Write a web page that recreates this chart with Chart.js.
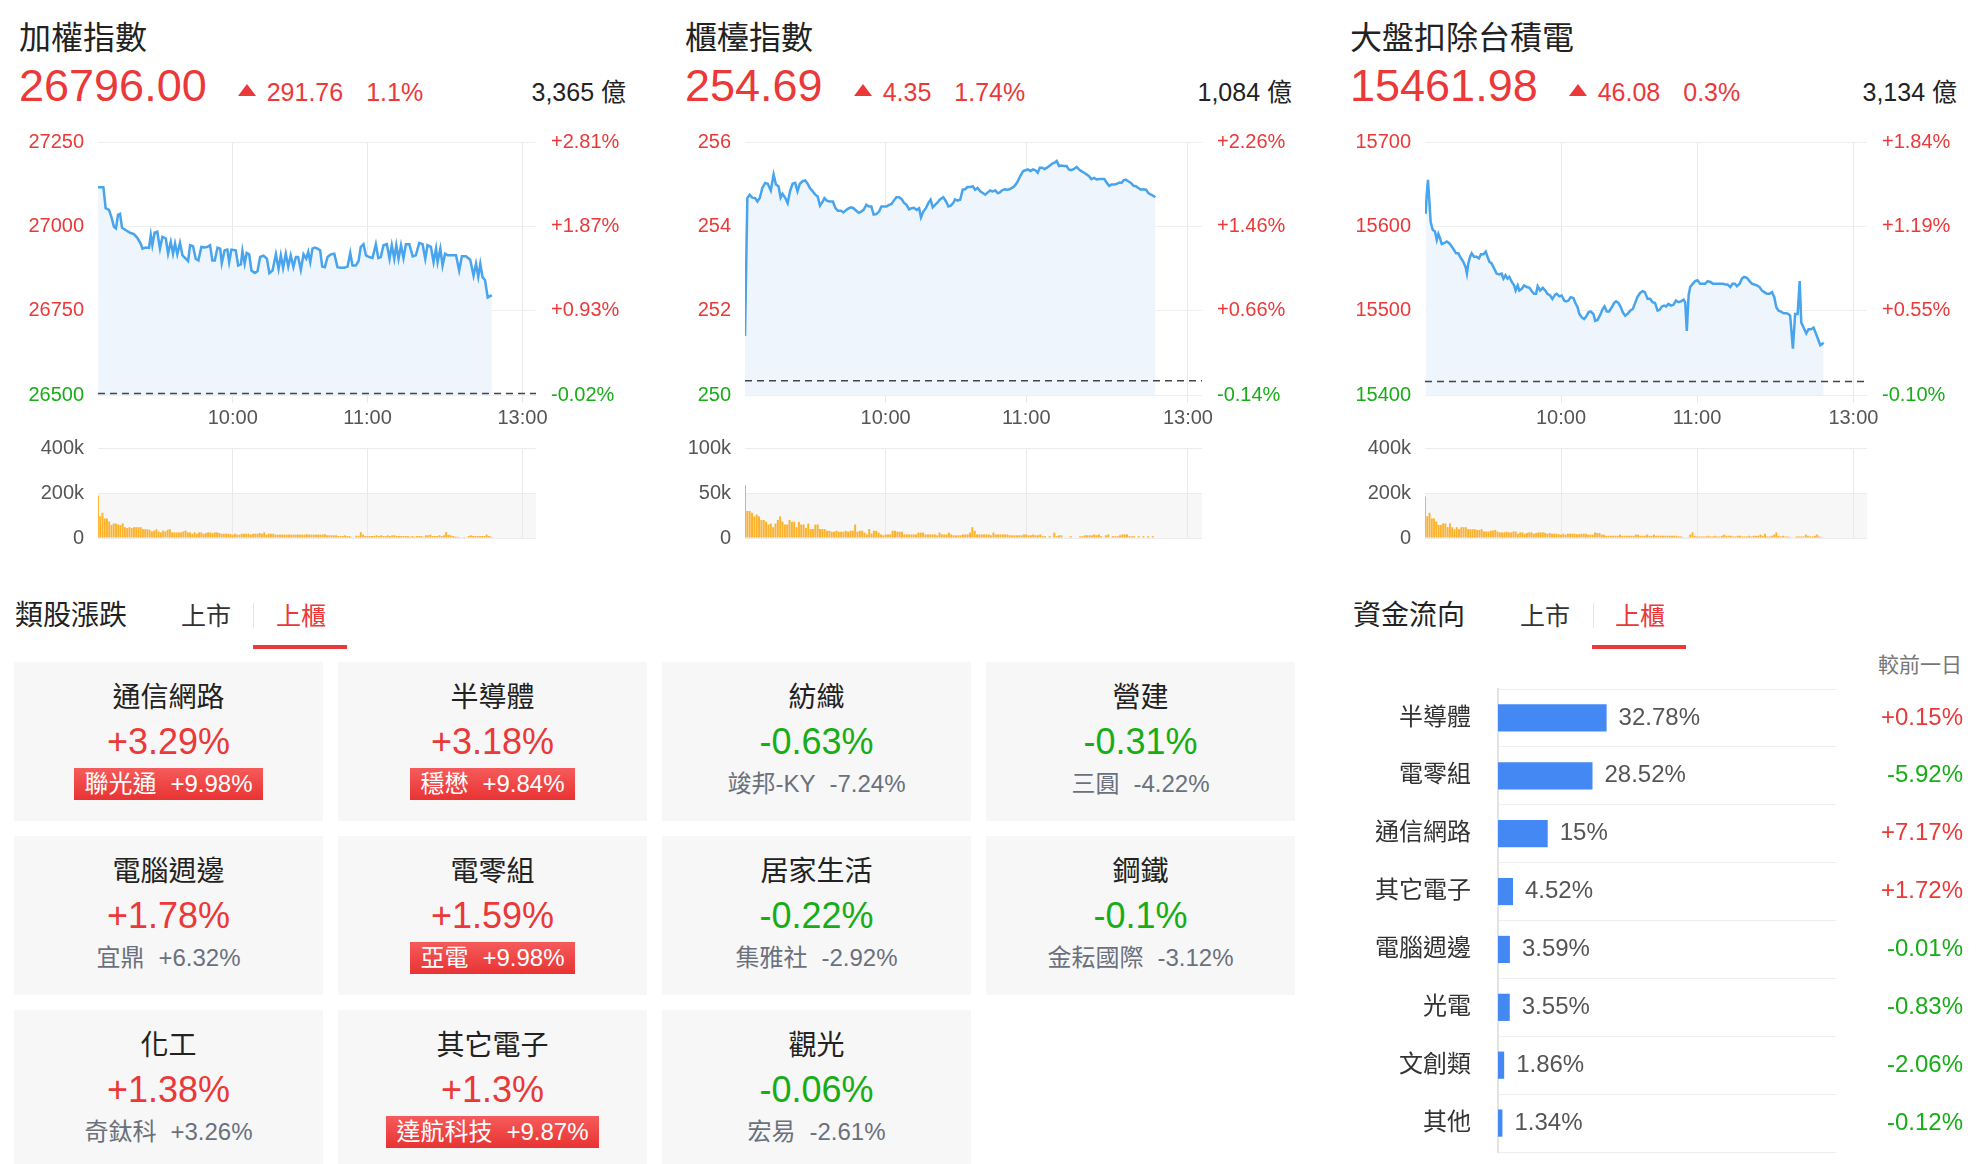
<!DOCTYPE html>
<html lang="zh-Hant">
<head>
<meta charset="utf-8">
<title>大盤走勢</title>
<script src="https://cdn.jsdelivr.net/npm/chart.js@4.4.1/dist/chart.umd.min.js"></script>
<style>
  body { margin: 0; width: 1978px; height: 1164px; overflow: hidden; position: relative; background: #fff;
    font-family: "Helvetica Neue", Helvetica, Arial, "Liberation Sans", "Noto Sans CJK TC", sans-serif; color: #222; }
  .panel { position: absolute; top: 0; width: 607px; height: 560px; }
  .panel .title { position: absolute; left: 0; top: 18px; font-size: 32px; line-height: 40px; white-space: nowrap; }
  .quote { position: absolute; left: 0; right: 0; top: 63px; display: flex; align-items: baseline; line-height: 1; white-space: nowrap; }
  .quote .last { font-size: 45px; color: #eb3838; }
  .quote .tri { width: 0; height: 0; margin: 0 11px 0 31px; border-left: 9px solid transparent; border-right: 9px solid transparent;
    border-bottom: 12px solid #eb3838; transform: translateY(-5px); }
  .quote .chg, .quote .pct { font-size: 25px; color: #eb3838; }
  .quote .pct { margin-left: 23px; }
  .quote .amt { font-size: 25px; margin-left: auto; color: #222; }
  .price-box { position: absolute; left: 0; top: 122px; width: 607px; height: 311px; }
  .vol-box { position: absolute; left: 0; top: 436px; width: 607px; height: 114px; }

  .sec-head { position: absolute; top: 598px; font-size: 28px; line-height: 36px; color: #222; }
  .tab { position: absolute; top: 600px; font-size: 25px; line-height: 32px; color: #333; }
  .tab.on { color: #eb3838; }
  .tab-sep { position: absolute; top: 603px; width: 1px; height: 25px; background: #e6e6e6; }
  .tab-line { position: absolute; top: 645px; width: 94px; height: 4px; background: #eb3838; }

  .cards { position: absolute; left: 14px; top: 662px; display: grid; grid-template-columns: repeat(4, 309px);
    grid-auto-rows: 159px; column-gap: 15px; row-gap: 15px; }
  .card { background: #f7f7f7; text-align: center; padding-top: 18px; box-sizing: border-box; }
  .card .name { font-size: 28px; line-height: 36px; color: #222; }
  .card .chg { font-size: 36px; line-height: 52px; }
  .card .lead { display: inline-block; height: 32px; line-height: 32px; font-size: 24px; color: #6a717c; padding: 0 10px; white-space: nowrap; }
  .card .lead.limit { background: linear-gradient(#f65b5b, #e83333); color: #fff; }
  .card .lead span + span { margin-left: 14px; }

  .note { position: absolute; right: 16px; top: 653px; font-size: 21px; line-height: 24px; color: #777; }
  .flow-box { position: absolute; left: 1340px; top: 680px; width: 628px; height: 478px; }
</style>
</head>
<body>

<div class="sec-head" style="left:15px">類股漲跌</div>
<div class="tab" style="left:181px">上市</div>
<div class="tab-sep" style="left:253px"></div>
<div class="tab on" style="left:276px">上櫃</div>
<div class="tab-line" style="left:253px"></div>
<div class="cards" id="cards"></div>

<div class="sec-head" style="left:1353px">資金流向</div>
<div class="tab" style="left:1520px">上市</div>
<div class="tab-sep" style="left:1593px"></div>
<div class="tab on" style="left:1615px">上櫃</div>
<div class="tab-line" style="left:1592px"></div>
<div class="note">較前一日</div>
<div class="flow-box"><canvas id="flow"></canvas></div>

<script>
// ---- index headers ----
const indexNames = ['加權指數', '櫃檯指數', '大盤扣除台積電'];
const indexLast = [26796.00, 254.69, 15461.98];
const indexChange = [291.76, 4.35, 46.08];
const indexChangePct = [1.1, 1.74, 0.3];
const indexTurnover = [3365, 1084, 3134]; // 億

// ---- intraday axis ----
const SESSION_SLOTS = 195;
const timeTickSlots = [60, 120, 189];
const timeTickLabels = ['10:00', '11:00', '13:00'];

// price axis ticks per index
const taiexAxis = [26500, 26750, 27000, 27250];
const otcAxis = [250, 252, 254, 256];
const exTsmcAxis = [15400, 15500, 15600, 15700];

// volume axis ticks per index
const taiexVolAxis = [0, 200000, 400000];
const otcVolAxis = [0, 50000, 100000];
const exTsmcVolAxis = [0, 200000, 400000];

// intraday trend [slot, value]
const taiexTrend = [[0,27116],[2.4,27116],[3.4,27054],[4.9,27049],[5.9,27029],[7.1,26999],[8,26994],[8.9,27034],[9.8,27037],[10.7,26996],
  [12.3,26989],[14.3,26981],[16,26977],[17.5,26966],[19,26949],[19.8,26934],[21.2,26937],[22.7,26936],[23.5,26974],[24.2,26944],
  [25.2,26981],[26.4,26984],[27.6,26934],[28.7,26969],[30.2,26964],[31.2,26919],[32.4,26954],[33.4,26919],[34.3,26949],[35.3,26917],
  [36.5,26951],[37.6,26914],[39.1,26904],[40.1,26897],[41,26944],[42.3,26941],[43.5,26904],[44.7,26899],[46,26939],[47.5,26937],
  [48.7,26939],[49.9,26944],[50.9,26899],[52,26899],[53.2,26937],[54.4,26934],[55.1,26891],[56.4,26929],[57.6,26931],[58.4,26894],
  [59.4,26931],[61.3,26929],[62.4,26884],[63.6,26887],[64.3,26927],[65.3,26889],[66.2,26921],[67.3,26917],[68.3,26869],[69.8,26862],
  [71,26867],[72.2,26909],[73.7,26913],[75.2,26904],[76.3,26861],[77.7,26869],[79.2,26917],[80.4,26874],[81.4,26914],[82.4,26877],
  [83.6,26919],[84.7,26881],[85.8,26914],[87,26879],[88.1,26909],[89.1,26909],[90.3,26871],[91.5,26917],[92.7,26904],[93.6,26924],
  [94.5,26894],[95.5,26934],[96.5,26937],[97.7,26934],[98.9,26929],[99.8,26881],[101,26879],[102.2,26909],[103.7,26917],[105.2,26919],
  [106.6,26879],[108.1,26877],[109.6,26877],[111.1,26881],[112.3,26921],[113.3,26884],[114.8,26884],[116,26897],[117,26939],[118.2,26947],
  [119.3,26914],[120.7,26909],[122.2,26906],[123.7,26947],[124.8,26906],[125.9,26909],[127.1,26944],[128.6,26947],[129.8,26904],[130.8,26944],
  [131.9,26904],[132.8,26944],[133.8,26904],[134.9,26944],[136,26906],[137.1,26947],[138.6,26947],[140.1,26911],[141.5,26914],[143,26951],
  [144.5,26947],[145.7,26904],[146.7,26944],[148.2,26939],[149.4,26894],[150.5,26934],[151.2,26894],[152.4,26934],[153.4,26884],[154.5,26919],
  [155.7,26914],[157.1,26914],[159.4,26914],[160.8,26869],[162,26911],[163.8,26911],[165.7,26901],[167.2,26854],[168.3,26889],[169.3,26851],
  [170.2,26889],[171.2,26849],[172.3,26841],[173.5,26789],[175.3,26796]];

const otcTrend = [[0,251.40],[1,254.67],[2,254.75],[3.1,254.68],[4.3,254.67],[5.3,254.59],[6.3,254.67],[7.4,254.91],[8.6,255.03],[9.7,255.01],
  [11,254.85],[12.2,255.23],[13.2,254.99],[14.3,254.95],[15.2,254.68],[16,254.77],[17.2,254.67],[18.2,254.55],[19.2,254.83],[20.3,255.01],
  [21.4,255.03],[22.4,254.83],[23.4,255.01],[24.6,255.07],[25.7,255.09],[26.7,255.01],[27.7,254.91],[28.9,254.83],[30,254.75],[31,254.71],
  [32,254.49],[33.2,254.59],[33.9,254.67],[34.9,254.61],[36,254.59],[37.5,254.59],[38.6,254.43],[39.6,254.37],[41,254.37],[42,254.33],
  [43.2,254.39],[44.3,254.43],[45.3,254.45],[46.3,254.43],[47.5,254.37],[48.5,254.32],[49.6,254.35],[50.6,254.39],[51.8,254.51],[52.9,254.47],
  [53.9,254.47],[54.9,254.28],[56,254.29],[57.2,254.35],[58.2,254.47],[59.2,254.47],[60.3,254.47],[61.5,254.51],[62.5,254.53],[63.5,254.61],
  [64.6,254.69],[65.8,254.69],[66.9,254.64],[67.8,254.56],[68.9,254.51],[70,254.40],[71.1,254.43],[72.1,254.44],[73.2,254.39],[74.3,254.43],
  [75.1,254.21],[76.1,254.35],[77.2,254.43],[78.2,254.55],[79.2,254.63],[80.1,254.45],[81.1,254.51],[82.1,254.56],[83.2,254.64],[84.6,254.69],
  [85.8,254.59],[86.8,254.47],[87.8,254.49],[88.9,254.56],[89.6,254.64],[90.6,254.61],[91.8,254.63],[92.9,254.87],[93.9,254.88],[94.9,254.93],
  [96.1,254.93],[97.2,254.95],[98.2,254.87],[99.2,254.91],[100.4,254.83],[101.5,254.79],[102.5,254.75],[103.5,254.80],[104.6,254.85],[105.6,254.83],
  [106.8,254.85],[107.8,254.79],[108.6,254.80],[109.6,254.85],[110.7,254.88],[111.8,254.87],[112.9,254.88],[113.9,254.91],[114.9,254.95],[116.1,255.04],
  [117.5,255.20],[118.7,255.31],[119.7,255.33],[120.7,255.35],[121.8,255.31],[122.9,255.35],[123.9,255.33],[124.9,255.27],[125.8,255.39],[126.8,255.39],
  [127.8,255.36],[128.9,255.39],[130.1,255.44],[131.1,255.49],[132.1,255.51],[133,255.55],[134,255.43],[135,255.44],[136.1,255.43],[137.2,255.43],
  [138.2,255.35],[139.2,255.33],[140.4,255.36],[141.5,255.41],[142.5,255.35],[143.5,255.31],[144.7,255.27],[145.8,255.23],[146.8,255.19],[147.8,255.12],
  [149,255.15],[150.1,255.11],[151.1,255.12],[152.1,255.12],[153.3,255.12],[154.4,255.03],[155.4,254.96],[156.4,254.99],[157.5,254.99],[158.7,255.01],
  [159.7,255.04],[160.7,255.03],[161.5,255.09],[162.5,255.11],[163.5,255.07],[164.7,255.03],[165.8,254.96],[166.8,254.95],[167.8,254.91],[169,254.87],
  [170.1,254.88],[171.1,254.87],[172.1,254.79],[173.3,254.75],[174.3,254.72],[175.1,254.69]];

const exTsmcTrend = [[0.3,15615],[0.7,15635],[1.3,15655],[1.9,15631],[2.5,15605],[3.4,15596],[4.4,15594],[5.2,15584],[5.9,15591],[6.6,15586],
  [7.4,15579],[8.4,15580],[9.6,15582],[10.7,15580],[11.8,15576],[12.8,15572],[13.7,15568],[14.7,15568],[15.7,15563],[16.9,15558],
  [18,15551],[18.5,15544],[19.1,15556],[19.9,15564],[20.6,15568],[21.6,15564],[22.8,15564],[23.8,15562],[24.7,15567],[25.8,15567],
  [26.8,15570],[27.7,15563],[28.4,15558],[29.4,15556],[30.5,15550],[31.6,15544],[32.7,15543],[33.8,15544],[34.6,15538],[35.5,15542],
  [36.4,15538],[37.2,15540],[38.3,15534],[39.3,15530],[40,15524],[40.9,15530],[41.6,15524],[42.7,15526],[43.7,15530],[44.9,15528],
  [46.1,15527],[47.1,15523],[48.1,15520],[49,15520],[49.7,15529],[50.8,15524],[52,15527],[53,15524],[54,15520],[55.2,15518],
  [56.2,15514],[57.4,15519],[58.1,15520],[59.3,15517],[60.3,15518],[61.4,15512],[62.3,15511],[63.3,15512],[64.3,15516],[65.5,15515],
  [66.2,15510],[67.3,15504],[68.1,15496],[69.2,15492],[70.2,15490],[71.1,15493],[72.1,15498],[73.1,15499],[74.3,15496],[75.1,15488],
  [76.1,15489],[77.3,15495],[78.4,15502],[79.2,15505],[80.2,15499],[81.2,15499],[82.4,15504],[83.4,15509],[84.3,15511],[85.4,15509],
  [86.4,15504],[87.3,15498],[88.3,15494],[89.3,15496],[90.5,15500],[91.7,15502],[92.7,15509],[93.7,15516],[94.9,15521],[96,15523],
  [97,15522],[98.2,15514],[99.3,15514],[100.4,15510],[101.5,15509],[102.6,15500],[103.5,15501],[104.5,15505],[105.5,15506],[106.4,15505],
  [107.4,15508],[108.5,15506],[109.6,15507],[110.7,15512],[111.8,15510],[112.9,15511],[114.1,15513],[114.8,15510],[115.5,15476],[116.3,15518],
  [117,15528],[118.2,15532],[119.2,15535],[120.2,15536],[121.4,15532],[122.6,15532],[123.6,15532],[124.7,15535],[125.8,15534],[127,15532],
  [128,15532],[129.1,15532],[130.2,15532],[131.4,15532],[132.5,15531],[133.5,15531],[134.7,15528],[135.7,15532],[136.7,15532],[137.6,15529],
  [138.8,15532],[139.8,15538],[140.8,15540],[142,15539],[143.2,15535],[144.2,15532],[145.3,15531],[146.4,15530],[147.6,15528],[148.6,15524],
  [149.7,15522],[150.8,15520],[152,15520],[153.1,15522],[154.1,15516],[155,15504],[156,15500],[157,15499],[158.2,15497],[159.4,15497],
  [160.4,15496],[161.1,15494],[162.3,15455],[163.3,15496],[164.4,15496],[165.3,15535],[166,15486],[167,15480],[168.2,15473],[169.2,15478],
  [170.3,15478],[171.4,15480],[172.6,15472],[173.7,15464],[174.4,15459],[175.9,15462]];

// volume per slot, in thousands
const taiexVolume = [189,97,112,87,87,73,58,65,65,60, 58,65,48,44,48,44,48,48,48,48, 39,39,39,36,29,33,39,29,25,33,
  29,36,39,25,25,25,25,25,29,33, 25,25,19,25,19,25,25,19,22,25, 25,22,25,25,22,19,19,19,19,17,
  15,19,15,15,19,19,19,19,15,19, 19,19,22,19,25,15,19,19,19,15, 15,15,15,15,15,15,15,15,15,15,
  15,15,15,17,15,15,15,15,15,15, 15,17,12,12,12,12,12,9,9,9, 12,9,9,4,0,10,10,26,15,9,
  9,9,9,9,12,9,12,9,9,12, 9,12,12,9,9,9,9,9,9,6, 9,6,9,9,9,6,12,12,15,9,
  9,9,12,9,12,26,15,12,9,6, 6,4,0,4,0,9,12,9,9,9, 9,9,9,15,9,6];
const otcVolume = [59,30,30,28,24,26,24,20,20,18, 15,16,12,16,20,24,18,15,15,20, 18,18,12,18,15,15,11,16,10,10,
  15,15,10,10,10,8,8,7,7,8, 7,7,7,8,7,8,8,15,7,8, 8,6,4,10,5,8,8,6,4,3,
  4,4,4,8,8,7,7,7,4,4, 4,4,4,4,6,6,6,4,4,4, 4,4,3,6,4,4,4,6,4,3,
  3,3,3,4,4,4,6,12,8,4, 4,4,4,4,4,3,6,4,4,4, 4,4,4,3,3,3,3,3,3,4,
  4,3,3,4,3,3,4,2,2,0, 2,0,6,2,3,3,0,0,0,2, 0,0,0,2,2,3,3,3,3,4,
  3,4,2,0,3,4,0,2,2,2, 3,4,4,4,2,2,2,0,2,0, 2,0,2,0,2,0];
const exTsmcVolume = [185,97,112,87,87,73,58,58,65,65, 48,65,48,39,48,39,48,48,48,39, 39,39,39,36,36,39,29,29,29,33,
  33,36,29,25,25,25,28,25,25,29, 29,19,25,25,19,22,25,25,19,22, 25,25,25,23,19,22,19,19,19,17,
  15,19,15,19,19,19,19,17,17,19, 19,19,15,15,15,25,22,22,15,15, 10,10,10,10,10,10,15,10,10,10,
  10,10,10,15,15,10,10,10,15,10, 10,15,10,10,10,10,10,10,10,10, 10,10,7,7,4,0,4,15,25,10,
  7,7,7,7,7,10,7,7,10,7, 7,10,15,10,10,10,7,7,10,10, 7,7,7,10,7,10,10,10,15,10,
  19,7,7,10,15,25,10,7,10,7, 7,4,0,0,7,7,7,7,15,10, 7,7,10,15,7,4];

// ---- sector cards ----
const sectorNames = ['通信網路', '半導體', '紡織', '營建', '電腦週邊', '電零組', '居家生活', '鋼鐵', '化工', '其它電子', '觀光'];
const sectorChange = [3.29, 3.18, -0.63, -0.31, 1.78, 1.59, -0.22, -0.1, 1.38, 1.3, -0.06];
const leaderNames = ['聯光通', '穩懋', '竣邦-KY', '三圓', '宜鼎', '亞電', '集雅社', '金耘國際', '奇鈦科', '達航科技', '宏易'];
const leaderChange = [9.98, 9.84, -7.24, -4.22, 6.32, 9.98, -2.92, -3.12, 3.26, 9.87, -2.61];

// ---- money flow ----
const flowSectors = ['半導體', '電零組', '通信網路', '其它電子', '電腦週邊', '光電', '文創類', '其他'];
const flowShare = [32.78, 28.52, 15, 4.52, 3.59, 3.55, 1.86, 1.34];
const flowVsPrev = [0.15, -5.92, 7.17, 1.72, -0.01, -0.83, -2.06, -0.12];

const UP = '#eb3838', DOWN = '#17ad17';
const panelLeft = [19, 685, 1350];
const axisLeftWidth = [79, 60, 75];
const AXIS_RIGHT = 90;

Chart.defaults.font.family = getComputedStyle(document.body).fontFamily;
Chart.defaults.animation = false;
Chart.defaults.plugins.legend.display = false;
Chart.defaults.plugins.tooltip.enabled = false;

const signed = v => (v > 0 ? '+' : '') + v + '%';

// fixed width for a vertical axis, and no extra label padding above/below the plot
const fixAxis = w => s => { s.width = w; s.paddingTop = 0; s.paddingBottom = 0; };

function timeAxis(showLabels) {
  return {
    type: 'linear', min: 0, max: SESSION_SLOTS, offset: false,
    afterBuildTicks: s => { s.ticks = timeTickSlots.map(v => ({ value: v })); },
    ticks: { display: showLabels, callback: (v, i) => timeTickLabels[i], color: '#555', font: { size: 20 },
      padding: 3, maxRotation: 0, autoSkip: false },
    grid: { color: '#e9e9e9', drawTicks: showLabels, tickLength: 8, offset: false },
    border: { display: false }
  };
}

function prevClosePlugin(prev) {
  return {
    id: 'prevClose',
    afterDatasetsDraw(chart) {
      const { ctx, chartArea: a, scales: { y } } = chart;
      const py = y.getPixelForValue(prev);
      ctx.save();
      ctx.strokeStyle = '#444'; ctx.lineWidth = 1.5; ctx.setLineDash([7, 5]);
      ctx.beginPath(); ctx.moveTo(a.left, py); ctx.lineTo(a.right, py); ctx.stroke();
      ctx.restore();
    }
  };
}

const volumeBand = {
  id: 'volumeBand',
  beforeDraw(chart) {
    const { ctx, chartArea: a, scales: { y } } = chart;
    const top = y.getPixelForValue(y.max / 2), bottom = y.getPixelForValue(0);
    ctx.save(); ctx.fillStyle = '#f7f7f7';
    ctx.fillRect(a.left, top, a.right - a.left, bottom - top);
    ctx.restore();
  }
};

const trends = [taiexTrend, otcTrend, exTsmcTrend];
const priceAxes = [taiexAxis, otcAxis, exTsmcAxis];
const volumes = [taiexVolume, otcVolume, exTsmcVolume];
const volAxes = [taiexVolAxis, otcVolAxis, exTsmcVolAxis];

indexNames.forEach((name, i) => {
  const prev = +(indexLast[i] - indexChange[i]).toFixed(2);
  const panel = document.createElement('div');
  panel.className = 'panel';
  panel.style.left = panelLeft[i] + 'px';
  panel.innerHTML = `<div class="title">${name}</div>
    <div class="quote"><span class="last">${indexLast[i].toFixed(2)}</span><span class="tri"></span>
      <span class="chg">${indexChange[i].toFixed(2)}</span><span class="pct">${indexChangePct[i]}%</span>
      <span class="amt">${indexTurnover[i].toLocaleString('en-US')} 億</span></div>
    <div class="price-box"><canvas></canvas></div>
    <div class="vol-box"><canvas></canvas></div>`;
  document.body.appendChild(panel);
  const [priceCanvas, volCanvas] = panel.querySelectorAll('canvas');

  const ticks = priceAxes[i];
  const yMin = ticks[0], yMax = ticks[ticks.length - 1];
  const tickColor = ctx => ctx.tick.value < prev ? DOWN : UP;

  new Chart(priceCanvas, {
    type: 'line',
    data: {
      datasets: [{
        data: trends[i].map(([x, y]) => ({ x, y })),
        borderColor: '#48a4ec', borderWidth: 2.5, backgroundColor: '#eef5fd',
        fill: 'start', pointRadius: 0, tension: 0
      }]
    },
    options: {
      responsive: true, maintainAspectRatio: false,
      layout: { padding: { top: 20 } },
      scales: {
        x: timeAxis(true),
        y: {
          min: yMin, max: yMax,
          afterBuildTicks: s => { s.ticks = ticks.map(v => ({ value: v })); },
          afterFit: fixAxis(axisLeftWidth[i]),
          ticks: { callback: v => String(v), color: tickColor, font: { size: 20 }, padding: 14 },
          grid: { color: '#efefef', drawTicks: false },
          border: { display: false }
        },
        y2: {
          position: 'right', min: yMin, max: yMax,
          afterBuildTicks: s => { s.ticks = ticks.map(v => ({ value: v })); },
          afterFit: fixAxis(AXIS_RIGHT),
          ticks: {
            callback: v => { const p = (v - prev) / prev * 100; return (p >= 0 ? '+' : '') + p.toFixed(2) + '%'; },
            color: tickColor, font: { size: 20 }, padding: 15
          },
          grid: { display: false, drawTicks: false },
          border: { display: false }
        }
      }
    },
    plugins: [prevClosePlugin(prev)]
  });

  const vTicks = volAxes[i];
  new Chart(volCanvas, {
    type: 'bar',
    data: {
      datasets: [{
        data: volumes[i].map((v, k) => ({ x: k, y: v * 1000 })),
        backgroundColor: '#fcb22c', barPercentage: 0.85, categoryPercentage: 1
      }]
    },
    options: {
      responsive: true, maintainAspectRatio: false,
      layout: { padding: { top: 12, bottom: 12, right: AXIS_RIGHT } },
      scales: {
        x: timeAxis(false),
        y: {
          min: vTicks[0], max: vTicks[vTicks.length - 1],
          afterBuildTicks: s => { s.ticks = vTicks.map(v => ({ value: v })); },
          afterFit: fixAxis(axisLeftWidth[i]),
          ticks: { callback: v => v ? (v / 1000) + 'k' : '0', color: '#555', font: { size: 20 }, padding: 14 },
          grid: { color: '#ececec', drawTicks: false },
          border: { display: false }
        }
      }
    },
    plugins: [volumeBand]
  });
});

// sector cards
const cards = document.getElementById('cards');
sectorNames.forEach((name, i) => {
  const card = document.createElement('div');
  card.className = 'card';
  const limit = leaderChange[i] >= 9.5;
  card.innerHTML = `<div class="name">${name}</div>
    <div class="chg" style="color:${sectorChange[i] >= 0 ? UP : DOWN}">${signed(sectorChange[i])}</div>
    <div class="lead${limit ? ' limit' : ''}"><span>${leaderNames[i]}</span><span>${signed(leaderChange[i])}</span></div>`;
  cards.appendChild(card);
});

// money flow
const flowLabels = {
  id: 'flowLabels',
  afterDatasetsDraw(chart) {
    const { ctx } = chart;
    const meta = chart.getDatasetMeta(0);
    ctx.save();
    ctx.font = '24px ' + Chart.defaults.font.family;
    ctx.textBaseline = 'middle';
    meta.data.forEach((bar, i) => {
      ctx.textAlign = 'left'; ctx.fillStyle = '#555';
      ctx.fillText(flowShare[i] + '%', bar.x + 12, bar.y);
      const d = flowVsPrev[i];
      ctx.textAlign = 'right'; ctx.fillStyle = d >= 0 ? UP : DOWN;
      ctx.fillText((d >= 0 ? '+' : '') + d.toFixed(2) + '%', chart.width - 5, bar.y);
    });
    ctx.restore();
  }
};

new Chart(document.getElementById('flow'), {
  type: 'bar',
  data: {
    labels: flowSectors,
    datasets: [{ data: flowShare, backgroundColor: '#4388f3', barPercentage: 0.47, categoryPercentage: 1 }]
  },
  options: {
    indexAxis: 'y',
    responsive: true, maintainAspectRatio: false,
    layout: { padding: { top: 9, bottom: 6, right: 132 } },
    scales: {
      x: { display: false, min: 0, max: 102 },
      y: {
        afterFit: fixAxis(158),
        ticks: { color: '#333', font: { size: 24 }, padding: 27 },
        grid: { color: '#eeeeee', drawTicks: false, offset: true },
        border: { color: '#e3e3e3', width: 2 }
      }
    }
  },
  plugins: [flowLabels]
});
</script>
</body>
</html>
